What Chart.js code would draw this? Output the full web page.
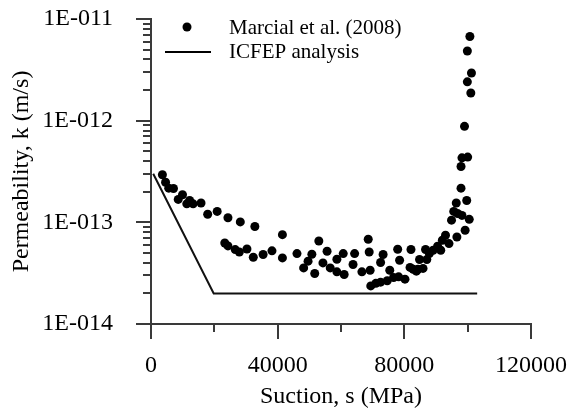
<!DOCTYPE html>
<html>
<head>
<meta charset="utf-8">
<script src="https://cdn.jsdelivr.net/npm/chart.js@4.4.1/dist/chart.umd.min.js"></script>
<style>
  html, body { margin: 0; padding: 0; background: #fff; }
  #wrap { width: 579px; height: 414px; }
</style>
</head>
<body>
<div id="wrap"><canvas id="myChart"></canvas></div>
<script>
// Marcial et al. (2008) measurements
const suction = [
  3600, 4600, 5600, 7100, 8600, 9950, 11300, 12200, 13300, 15800,
  17900, 20900, 23300, 24300, 24300, 26600, 27900, 28200, 30300, 32300,
  32800, 35400, 38200, 41500, 41500, 46100, 48200, 49600, 50800, 51700,
  53000, 54300, 55600, 56600, 58700, 58700, 60700, 61000, 63800, 64300,
  66600, 68600, 68900, 69200, 69400, 71000, 72500, 74600, 72500, 73300,
  75400, 76600, 77900, 78500, 78200, 80200, 82100, 81800, 82800, 83800,
  84300, 84800, 85900, 86700, 87100, 87900, 89100, 90500, 91500, 92000,
  93000, 94100, 94900, 95600, 96400, 96600, 96800, 97900, 97900, 98200,
  98200, 99000, 99200, 99700, 99900, 99900, 100000, 100500, 100700, 101000,
  101200,
];
const permeability = [
  2.94e-13, 2.48e-13, 2.17e-13, 2.15e-13, 1.68e-13, 1.87e-13, 1.52e-13, 1.64e-13, 1.52e-13, 1.55e-13,
  1.2e-13, 1.28e-13, 6.27e-14, 1.11e-13, 5.86e-14, 5.39e-14, 5.11e-14, 1.01e-13, 5.47e-14, 4.54e-14,
  9.1e-14, 4.82e-14, 5.24e-14, 7.57e-14, 4.47e-14, 4.93e-14, 3.56e-14, 4.15e-14, 4.85e-14, 3.14e-14,
  6.56e-14, 3.99e-14, 5.2e-14, 3.56e-14, 4.33e-14, 3.26e-14, 4.93e-14, 3.07e-14, 3.85e-14, 4.93e-14,
  3.26e-14, 6.81e-14, 5.11e-14, 3.38e-14, 2.37e-14, 2.51e-14, 2.58e-14, 2.66e-14, 4.03e-14, 4.82e-14,
  3.38e-14, 2.87e-14, 5.43e-14, 4.24e-14, 2.91e-14, 2.76e-14, 5.41e-14, 3.6e-14, 3.46e-14, 3.31e-14,
  3.46e-14, 4.31e-14, 3.52e-14, 5.41e-14, 4.3e-14, 4.93e-14, 5.31e-14, 5.82e-14, 5.31e-14, 6.67e-14,
  7.46e-14, 6.18e-14, 1.05e-13, 1.28e-13, 1.55e-13, 7.18e-14, 1.22e-13, 2.17e-13, 3.54e-13, 4.31e-13,
  1.17e-13, 8.8e-13, 8.36e-14, 1.64e-13, 2.41e-12, 4.85e-12, 4.38e-13, 1.07e-13, 6.72e-12, 1.87e-12,
  2.94e-12,
];

// ICFEP analysis
const icfepSuction = [700, 19800, 103000];
const icfepPermeability = [3e-13, 2e-14, 2e-14];

// axes
const xTickValues = [0, 20000, 40000, 60000, 80000, 100000, 120000];
const xTickLabels = ["0", "", "40000", "", "80000", "", "120000"];
const yTickValues = [1e-14, 1e-13, 1e-12, 1e-11];
const yTickLabels = ["1E-014", "1E-013", "1E-012", "1E-011"];

const serif = "'Liberation Serif', 'Times New Roman', serif";
const axisColor = "#3a3a3a";

// y minor ticks at 2..9 of each decade
const yAllTicks = [];
yTickValues.forEach((v, i) => {
  yAllTicks.push({ value: v, major: true });
  if (i < yTickValues.length - 1) {
    for (let m = 2; m <= 9; m++) yAllTicks.push({ value: v * m, major: false });
  }
});

const tickMarks = {
  id: "tickMarks",
  afterDraw(chart) {
    const c = chart.ctx;
    const xs = chart.scales.x, ys = chart.scales.y;
    const area = chart.chartArea;
    c.save();
    c.strokeStyle = axisColor;
    c.lineWidth = 2;
    c.beginPath();
    xTickValues.forEach((v, i) => {
      const px = Math.round(xs.getPixelForValue(v));
      const len = xTickLabels[i] ? 15 : 8;
      c.moveTo(px, area.bottom);
      c.lineTo(px, area.bottom + len);
    });
    yAllTicks.forEach((t) => {
      const py = Math.round(ys.getPixelForValue(t.value));
      const len = t.major ? 15 : 8;
      c.moveTo(area.left, py);
      c.lineTo(area.left - len, py);
    });
    c.stroke();

    // legend
    const ds = chart.data.datasets;
    c.fillStyle = "#000";
    c.font = "21px " + serif;
    c.textBaseline = "middle";
    c.beginPath();
    c.arc(187, 27, 4.5, 0, Math.PI * 2);
    c.fill();
    c.fillText(ds[0].label, 229, 28);
    c.strokeStyle = "#000";
    c.lineWidth = 2;
    c.beginPath();
    c.moveTo(165, 52);
    c.lineTo(211, 52);
    c.stroke();
    c.fillText(ds[1].label, 229, 52);
    c.restore();
  },
};

const ctx = document.getElementById("myChart");

const myChart = new Chart(ctx, {
  type: "scatter",
  data: {
    datasets: [
      {
        label: "Marcial et al. (2008)",
        data: suction.map((s, i) => ({ x: s, y: permeability[i] })),
        backgroundColor: "#000",
        borderColor: "#000",
        borderWidth: 0,
        pointRadius: 4.5,
      },
      {
        label: "ICFEP analysis",
        data: icfepSuction.map((s, i) => ({ x: s, y: icfepPermeability[i] })),
        showLine: true,
        borderColor: "#111",
        borderWidth: 2,
        pointRadius: 0,
      },
    ],
  },
  options: {
    responsive: true,
    maintainAspectRatio: false,
    animation: false,
    layout: { padding: { top: 0, right: 38, bottom: 0, left: 0 } },
    plugins: {
      legend: { display: false },
      tooltip: { enabled: false },
    },
    scales: {
      x: {
        type: "linear",
        min: 0,
        max: 120000,
        afterBuildTicks: (scale) => {
          scale.ticks = xTickValues.map((v) => ({ value: v }));
        },
        afterFit: (scale) => {
          scale.height = 90;
        },
        ticks: {
          autoSkip: false,
          maxRotation: 0,
          padding: 12,
          color: "#000",
          font: { family: serif, size: 24 },
          callback: (value) => xTickLabels[xTickValues.indexOf(value)] || "",
        },
        grid: {
          display: true,
          drawOnChartArea: false,
          drawTicks: true,
          tickLength: 15,
          tickColor: "rgba(0,0,0,0)",
        },
        border: { display: true, color: axisColor, width: 2 },
        title: {
          display: true,
          text: "Suction, s (MPa)",
          color: "#000",
          font: { family: serif, size: 24 },
          padding: { top: 0, bottom: 3 },
        },
      },
      y: {
        type: "logarithmic",
        min: 1e-14,
        max: 1e-11,
        afterBuildTicks: (scale) => {
          scale.ticks = yAllTicks.map((t) => ({ value: t.value }));
        },
        afterFit: (scale) => {
          scale.width = 151;
          scale.paddingTop = 19;
        },
        ticks: {
          autoSkip: false,
          padding: 23,
          color: "#000",
          font: { family: serif, size: 24 },
          callback: (value) => {
            const i = yTickValues.findIndex((v) => Math.abs(v - value) / v < 1e-6);
            return i >= 0 ? yTickLabels[i] : "";
          },
        },
        grid: {
          display: true,
          drawOnChartArea: false,
          drawTicks: true,
          tickLength: 15,
          tickColor: "rgba(0,0,0,0)",
        },
        border: { display: true, color: axisColor, width: 2 },
        title: {
          display: true,
          text: "Permeability, k (m/s)",
          color: "#000",
          font: { family: serif, size: 24 },
          padding: { top: 7, bottom: 0 },
        },
      },
    },
  },
  plugins: [tickMarks],
});
</script>
</body>
</html>
